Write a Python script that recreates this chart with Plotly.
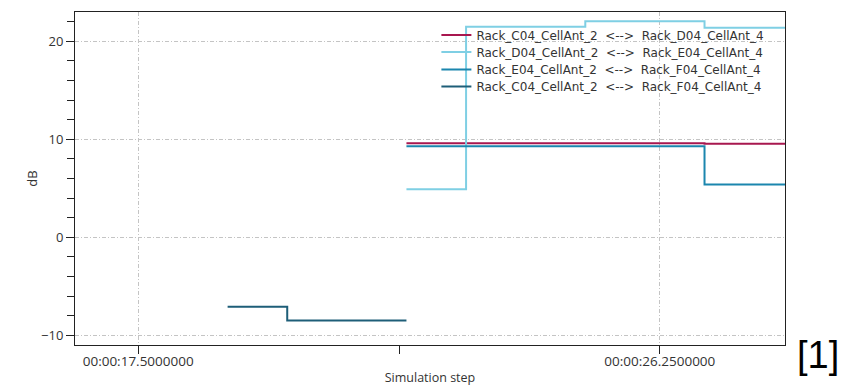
import plotly.graph_objects as go

# Simulation time (seconds) and dB values per link
sp = "\u00a0\u00a0"
names = [
    "Rack_C04_CellAnt_2" + sp + "<-->" + sp + "Rack_D04_CellAnt_4",
    "Rack_D04_CellAnt_2" + sp + "<-->" + sp + "Rack_E04_CellAnt_4",
    "Rack_E04_CellAnt_2" + sp + "<-->" + sp + "Rack_F04_CellAnt_4",
    "Rack_C04_CellAnt_2" + sp + "<-->" + sp + "Rack_F04_CellAnt_4",
]
colors = ["#A8174F", "#7FCFE4", "#1B86AE", "#1E5E78"]

t_cd = [22, 23, 24, 25, 26, 27, 28, 29]
db_cd = [9.6, 9.6, 9.6, 9.6, 9.6, 9.55, 9.55, 9.55]

t_de = [22, 23, 24, 25, 26, 27, 28, 29]
db_de = [4.9, 21.5, 21.5, 22.05, 22.05, 21.4, 21.4, 21.4]

t_ef = [22, 23, 24, 25, 26, 27, 28, 29]
db_ef = [9.3, 9.3, 9.3, 9.3, 9.3, 5.4, 5.4, 5.4]

t_cf = [19, 20, 21, 22]
db_cf = [-7.1, -8.5, -8.5, -8.5]

x_tickvals = [17.5, 26.25]
x_ticktext = ["00:00:17.5000000", "00:00:26.2500000"]
x_minor_ticks = [21.875]
y_tickvals = [-10, 0, 10, 20]

series = [(t_cd, db_cd), (t_de, db_de), (t_ef, db_ef), (t_cf, db_cf)]
legend_ids = ["legend", "legend2", "legend3", "legend4"]

# plot area: top 12px, bottom 345px (height 333px)
legend_row_px = [35, 52, 69.5, 86.5]

fig = go.Figure()
for (tx, ty), nm, col, lg in zip(series, names, colors, legend_ids):
    fig.add_trace(go.Scatter(x=tx, y=ty, name=nm, mode="lines", legend=lg,
                             line=dict(color=col, width=2, shape="hv")))

legend_style = dict(x=0.509, xanchor="left", yanchor="middle",
                    bgcolor="rgba(0,0,0,0)",
                    font=dict(family="DejaVu Sans", size=12, color="#333333"),
                    itemwidth=30)
legends = {lg: dict(y=(345 - py) / 333, **legend_style)
           for lg, py in zip(legend_ids, legend_row_px)}

grid = dict(gridcolor="#C4C4C4", griddash="4px,2px,1px,2px", gridwidth=1)
fig.update_layout(
    width=845, height=390,
    margin=dict(l=75, r=60, t=12, b=45),
    paper_bgcolor="white", plot_bgcolor="white",
    font=dict(family="Open Sans", color="#333333", size=11),
    showlegend=True,
    **legends,
    xaxis=dict(range=[16.44, 28.35], tickmode="array", tickvals=x_tickvals,
               ticktext=x_ticktext, ticks="outside", ticklen=8, tickcolor="#222",
               showline=True, linecolor="#222", linewidth=1, mirror=True,
               showgrid=True, zeroline=False, automargin=False, **grid,
               tickfont=dict(size=13.5, color="#333"), ticklabelstandoff=-4,
               minor=dict(tickmode="array", tickvals=x_minor_ticks, ticks="outside",
                          ticklen=8, tickcolor="#222", showgrid=False),
               title=dict(text="Simulation step", font=dict(size=12.5, color="#333"),
                          standoff=4)),
    yaxis=dict(range=[-11, 23], tickmode="array", tickvals=y_tickvals,
               ticks="outside", ticklen=8, tickcolor="#222",
               showline=True, linecolor="#222", linewidth=1, mirror=True,
               showgrid=True, zeroline=False, automargin=False, **grid,
               tickfont=dict(size=13, color="#333"),
               minor=dict(dtick=2, tick0=0, ticks="outside", ticklen=7,
                          tickcolor="#222", showgrid=False),
               title=dict(text="dB", font=dict(size=13, color="#333"), standoff=0)),
)
fig.add_annotation(text="[1]", xref="paper", yref="paper", x=1.0465, y=-0.03,
                   xanchor="center", yanchor="middle", showarrow=False,
                   font=dict(family="Liberation Sans", size=38, color="black"))

fig.write_html("out.html")
